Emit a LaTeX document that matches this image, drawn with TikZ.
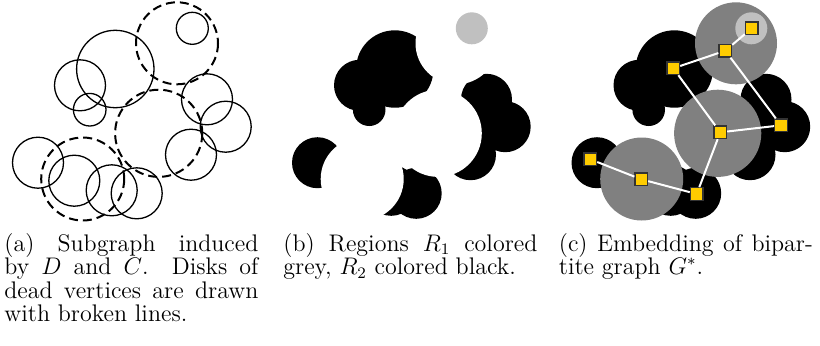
\documentclass[tikz,border=0pt]{standalone}
\usepackage{tikz}
\definecolor{gold}{RGB}{255,204,0}
\definecolor{midgrey}{RGB}{128,128,128}
\definecolor{lightgrey}{RGB}{192,192,192}
\newcommand{\solidlist}{115.3/69/38.7, 80/85.3/25.5, 89.7/109.7/16.3, 207/99.3/25.5, 225.7/126.7/25.5, 191/154.7/25.5, 38/162.7/25.5, 74.3/180.7/25.5, 111.7/190.3/25.5, 136.7/193.3/25.5}
\newcommand{\deadlist}{177/43.3/41, 158.7/133.3/43.6, 82.7/179/41.5}
\newcommand{\capline}[1]{\makebox[127pt][s]{#1}}
\begin{document}
\begin{tikzpicture}[x=0.5pt,y=-0.5pt,
  solidc/.style={draw=black, line width=0.65pt},
  deadc/.style={draw=black, line width=1pt, dash pattern=on 4.5pt off 2.5pt},
  vert/.style={rectangle, fill=gold, draw=black!80, line width=0.6pt, minimum size=6.3pt, inner sep=0pt},
  gedge/.style={draw=white, line width=1pt},
  capt/.style={anchor=base west, inner sep=0pt, align=left}]
\useasboundingbox (0,0) rectangle (820,345);

% ---------- panel (a)
\begin{scope}
  \draw[solidc] (192.3,28.3) circle[radius=16];
  \foreach \x/\y/\r in \solidlist { \draw[solidc] (\x,\y) circle[radius=\r]; }
  \foreach \x/\y/\r in \deadlist { \draw[deadc] (\x,\y) circle[radius=\r]; }
\end{scope}

% ---------- panel (b)
\begin{scope}[shift={(279.5,0)}]
  \foreach \x/\y/\r in \solidlist { \fill[black] (\x,\y) circle[radius=\r]; }
  \foreach \x/\y/\r in \deadlist { \fill[white] (\x,\y) circle[radius=\r]; }
  \fill[lightgrey] (192.3,28.3) circle[radius=16];
\end{scope}

% ---------- panel (c)
\begin{scope}[shift={(559,0)}]
  \foreach \x/\y/\r in \solidlist { \fill[black] (\x,\y) circle[radius=\r]; }
  \foreach \x/\y/\r in \deadlist { \fill[midgrey] (\x,\y) circle[radius=\r]; }
  \fill[lightgrey] (192.3,28.3) circle[radius=16];
\end{scope}

\node[vert] (A) at (751.7,28.3) {};
\node[vert] (B) at (725.3,50.7) {};
\node[vert] (C) at (673.3,68.3) {};
\node[vert] (D) at (720.3,132.3) {};
\node[vert] (E) at (781,125.3) {};
\node[vert] (F) at (590.3,159.3) {};
\node[vert] (G) at (641.3,179.3) {};
\node[vert] (H) at (696.7,194) {};
\foreach \a/\b in {A/B, B/C, B/E, C/D, D/E, D/H, F/G, G/H} { \draw[gedge] (\a) -- (\b); }

% ---------- captions
\node[capt] (capA) at (4,251) {\parbox[t]{130pt}{\fontsize{12}{11.75}\selectfont
  \capline{(a) Subgraph induced}\\
  \capline{by $D$ and $C$. Disks of}\\
  \capline{dead vertices are drawn}\\
  with broken lines.}};
\node[capt] (capB) at (283,251) {\parbox[t]{130pt}{\fontsize{12}{11.75}\selectfont
  \capline{(b) Regions $R_1$ colored}\\
  grey, $R_2$ colored black.}};
\node[capt] (capC) at (558.5,251) {\parbox[t]{130pt}{\fontsize{12}{11.75}\selectfont
  \capline{(c) Embedding of bipar-}\\
  tite graph $G^*$.}};
\end{tikzpicture}
\end{document}
